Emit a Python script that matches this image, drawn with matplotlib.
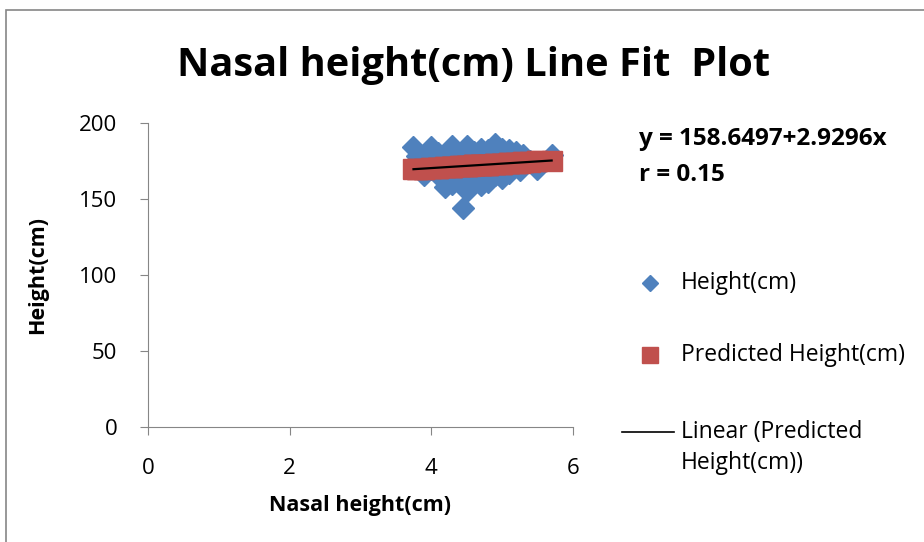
import matplotlib.pyplot as plt
from matplotlib.lines import Line2D
from matplotlib.patches import Rectangle

# data
nasal_height = [3.75, 3.8, 4.0, 4.1, 4.3, 4.5, 4.6, 4.7, 4.8, 4.9, 5.0, 5.1, 5.2, 5.3, 5.5, 5.7,
                3.9, 4.0, 4.2, 4.3, 4.45, 4.5, 4.6, 4.7, 4.8, 5.0, 5.1, 5.25, 5.5,
                3.8, 3.9, 4.1, 4.2, 4.3, 4.4, 4.5, 4.6, 4.7, 4.8, 4.9, 5.0, 5.1, 5.2, 5.3, 5.4, 4.4, 4.6,
                4.1, 4.3, 4.55, 4.75, 4.9]
height = [184, 178, 184, 180, 185, 185, 181, 183, 182, 186, 183, 182, 181, 179, 170, 179,
          166, 170, 158, 163, 144, 155, 162, 159, 161, 164, 167, 169, 171,
          172, 175, 173, 176, 170, 178, 172, 175, 170, 176, 172, 177, 174, 176, 173, 175, 165, 167,
          166, 160, 164, 165, 166]
intercept = 158.6497
slope = 2.9296
r_value = 0.15

predicted = [intercept + slope * x for x in nasal_height]

blue = '#4F81BD'
red = '#C0504D'
grey = '#868686'
font = ['Open Sans', 'DejaVu Sans']
plt.rcParams['font.family'] = font

fig = plt.figure(figsize=(9.24, 5.42), dpi=100)
ax = fig.add_axes([0.160, 0.212, 0.460, 0.561])

ax.plot(nasal_height, height, linestyle='none', marker='D', ms=11, color=blue, mec=blue)
ax.plot(nasal_height, predicted, linestyle='none', marker='s', ms=14.5, color=red, mec=red)
xs = [min(nasal_height), max(nasal_height)]
ax.plot(xs, [intercept + slope * x for x in xs], color='black', lw=1.6)

ax.set_xlim(0, 6)
ax.set_ylim(0, 200)
ax.set_xticks([0, 2, 4, 6])
ax.set_yticks([0, 50, 100, 150, 200])
for s in ['top', 'right']:
    ax.spines[s].set_visible(False)
for s in ['left', 'bottom']:
    ax.spines[s].set_color(grey)
ax.tick_params(axis='both', direction='out', length=6, color=grey, labelsize=16)
ax.tick_params(axis='x', pad=16)
ax.tick_params(axis='y', pad=16)
ax.set_xlabel('Nasal height(cm)', fontsize=15.5, fontweight='bold', labelpad=12)
ax.set_ylabel('Height(cm)', fontsize=15.5, fontweight='bold', labelpad=22)

fig.text(0.512, 0.880, 'Nasal height(cm) Line Fit  Plot', ha='center', va='center',
         fontsize=28.6, fontweight='bold')
fig.text(0.692, 0.743, 'y = %.4f+%.4fx' % (intercept, slope), fontsize=17.5, fontweight='bold', va='center')
fig.text(0.692, 0.678, 'r = %.2f' % r_value, fontsize=17.5, fontweight='bold', va='center')

# legend drawn by hand
fig.add_artist(Line2D([650 / 924], [1 - 283 / 542], marker='D', ms=8.5, color=blue, linestyle='none'))
fig.text(681 / 924, 1 - 283 / 542, 'Height(cm)', fontsize=16.5, va='center')
fig.add_artist(Line2D([650 / 924], [1 - 355 / 542], marker='s', ms=12, color=red, linestyle='none'))
fig.text(681 / 924, 1 - 355 / 542, 'Predicted Height(cm)', fontsize=16.5, va='center')
fig.add_artist(Line2D([622 / 924, 674 / 924], [1 - 432 / 542] * 2, color='black', lw=1.2))
fig.text(681 / 924, 1 - 432 / 542, 'Linear (Predicted', fontsize=16.5, va='center')
fig.text(681 / 924, 1 - 463 / 542, 'Height(cm))', fontsize=16.5, va='center')

# chart border
fig.add_artist(Rectangle((5.5 / 924, -0.1), 1.2, 1.1 - 10 / 542, transform=fig.transFigure,
                         fill=False, edgecolor=grey, lw=1.2))

fig.savefig('out.png', dpi=100)
